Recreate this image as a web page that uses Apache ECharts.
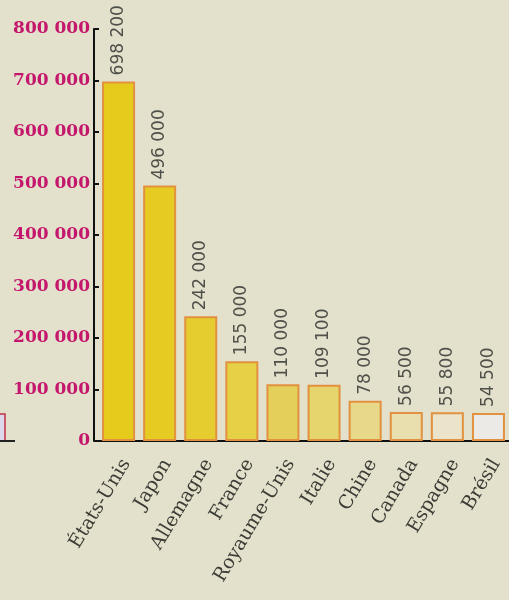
<!DOCTYPE html>
<html>
<head>
<meta charset="utf-8">
<script src="https://cdn.jsdelivr.net/npm/echarts@6/dist/echarts.min.js"></script>
<style>
  html, body { margin: 0; padding: 0; background: #e3e0cb; }
  #chart { width: 509px; height: 600px; }
</style>
</head>
<body>
<div id="chart"></div>
<script>
// Countries and their values
const countries = ['États-Unis', 'Japon', 'Allemagne', 'France', 'Royaume-Unis',
                   'Italie', 'Chine', 'Canada', 'Espagne', 'Brésil'];
const values = [698200, 496000, 242000, 155000, 110000, 109100, 78000, 56500, 55800, 54500];
const yTicks = [0, 100000, 200000, 300000, 400000, 500000, 600000, 700000, 800000];

// Fill colours fade from strong yellow to near white
const barColors = ['#e6ca1c', '#e6cb22', '#e5cd30', '#e5d046', '#e3cf5a',
                   '#e6d46c', '#e8d98a', '#e9dfae', '#ebe4cb', '#ebeae6'];

// "698 200" style thousands separator
function fmt(v) {
  return String(v).replace(/\B(?=(\d{3})+(?!\d))/g, ' ');
}

const chart = echarts.init(document.getElementById('chart'), null, { renderer: 'canvas' });

chart.setOption({
  backgroundColor: '#e3e0cb',
  animation: false,
  grid: { left: 98, right: -2, top: 29, bottom: 159, containLabel: false },
  xAxis: {
    type: 'category',
    data: countries,
    axisLine: { lineStyle: { color: '#111', width: 2 } },
    axisTick: { show: false },
    axisLabel: {
      interval: 0,
      rotate: 59,
      margin: 15,
      align: 'right',
      verticalAlign: 'top',
      lineHeight: 18,
      fontFamily: 'DejaVu Serif',
      fontSize: 19,
      color: '#3c3c36'
    }
  },
  yAxis: {
    type: 'value',
    min: yTicks[0],
    max: yTicks[yTicks.length - 1],
    interval: yTicks[1] - yTicks[0],
    offset: 4,
    splitLine: { show: false },
    axisLine: { show: true, lineStyle: { color: '#111', width: 2 } },
    axisTick: { show: true, inside: true, length: 5, lineStyle: { color: '#111', width: 2 } },
    axisLabel: {
      margin: 4,
      fontFamily: 'DejaVu Serif',
      fontWeight: 'bold',
      fontSize: 17,
      color: '#c4166c',
      formatter: fmt
    }
  },
  series: [{
    type: 'bar',
    barWidth: 33,
    data: values.map((v, i) => ({
      value: v,
      itemStyle: { color: barColors[i] }
    })),
    itemStyle: { borderColor: '#e2913f', borderWidth: 2 },
    label: {
      show: true,
      position: 'top',
      rotate: 90,
      align: 'left',
      verticalAlign: 'middle',
      distance: 6,
      fontFamily: 'DejaVu Sans',
      fontSize: 17,
      color: '#50504a',
      formatter: p => fmt(p.value)
    }
  }],
  graphic: [
    // edge of the neighbouring figure at the left margin
    { type: 'rect', shape: { x: -4, y: 414, width: 9, height: 27 },
      style: { fill: '#dcd8ea', stroke: '#c0304a', lineWidth: 1.5 } },
    { type: 'line', shape: { x1: 0, y1: 441, x2: 15, y2: 441 },
      style: { stroke: '#222', lineWidth: 2 } }
  ]
});
</script>
</body>
</html>
